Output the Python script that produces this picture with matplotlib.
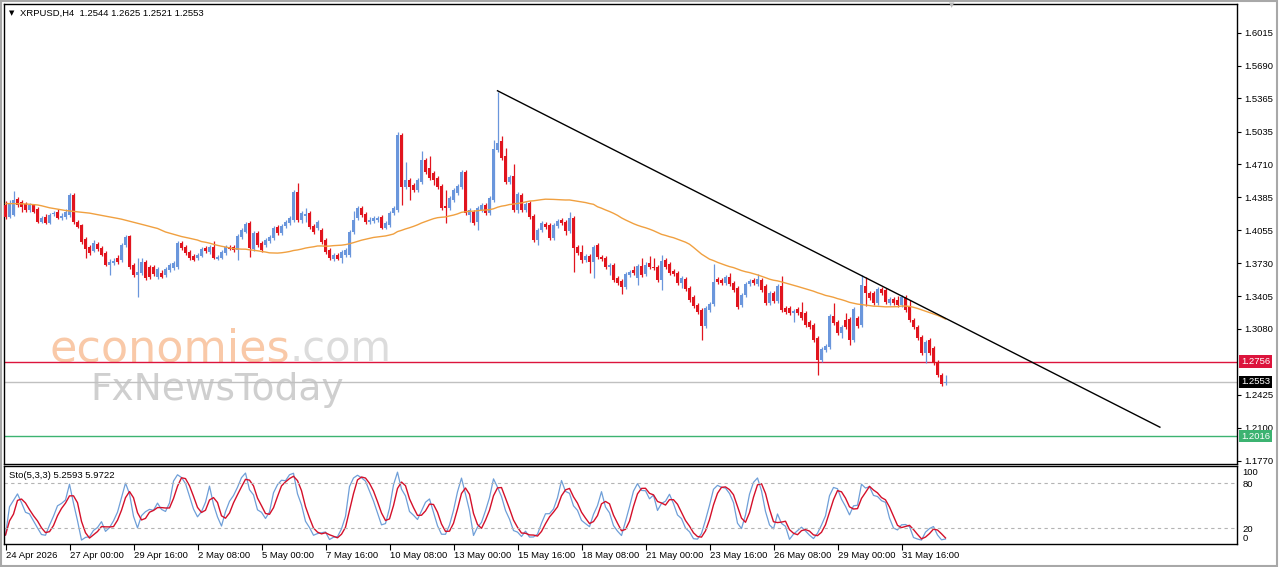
import numpy as np
import pandas as pd
import matplotlib
matplotlib.use("Agg")
import matplotlib.pyplot as plt
from matplotlib.patches import Rectangle

plt.rcParams['font.family'] = ['Liberation Sans', 'DejaVu Sans']

# ---- data (XRPUSD H4) ----
symbol_header = "XRPUSD,H4  1.2544 1.2625 1.2521 1.2553"
stoch_header = "Sto(5,3,3) 5.2593 5.9722"

opens = [
    1.4308, 1.4188, 1.4208, 1.4365, 1.4338, 1.4318, 1.4258, 1.4308, 1.4268, 1.4138, 1.4188, 1.4128,
    1.4218, 1.4238, 1.4178, 1.4188, 1.4208, 1.4405, 1.4138, 1.4110, 1.3970, 1.3890, 1.3852, 1.3920,
    1.3880, 1.3832, 1.3712, 1.3732, 1.3782, 1.3762, 1.3910, 1.4000, 1.3712, 1.3612, 1.3632, 1.3742,
    1.3692, 1.3692, 1.3595, 1.3632, 1.3612, 1.3662, 1.3682, 1.3692, 1.3930, 1.3890, 1.3842, 1.3802,
    1.3782, 1.3802, 1.3880, 1.3842, 1.3890, 1.3772, 1.3782, 1.3832, 1.3890, 1.3890, 1.3860, 1.3990,
    1.4040, 1.4128, 1.3870, 1.4030, 1.3930, 1.3910, 1.3950, 1.3980, 1.4090, 1.4030, 1.4100, 1.4128,
    1.4158, 1.4435, 1.4158, 1.4198, 1.4228, 1.4100, 1.4080, 1.4060, 1.3960, 1.3862, 1.3772, 1.3812,
    1.3782, 1.3812, 1.3812, 1.4040, 1.4178, 1.4278, 1.4218, 1.4138, 1.4148, 1.4158, 1.4188, 1.4080,
    1.4110, 1.4228, 1.4258, 1.5002, 1.4485, 1.4555, 1.4505, 1.4455, 1.4535, 1.4752, 1.4675, 1.4625,
    1.4575, 1.4495, 1.4298, 1.4278, 1.4355, 1.4425, 1.4485, 1.4635, 1.4208, 1.4238, 1.4138, 1.4258,
    1.4308, 1.4228, 1.4355, 1.4852, 1.4942, 1.4792, 1.4535, 1.4595, 1.4258, 1.4405, 1.4258, 1.4328,
    1.4198, 1.3960, 1.4060, 1.4118, 1.4110, 1.3980, 1.4098, 1.4158, 1.4138, 1.4050, 1.4178, 1.3890,
    1.3842, 1.3762, 1.3802, 1.3742, 1.3910, 1.3792, 1.3782, 1.3692, 1.3712, 1.3585, 1.3555, 1.3495,
    1.3612, 1.3662, 1.3585, 1.3702, 1.3622, 1.3732, 1.3692, 1.3692, 1.3565, 1.3762, 1.3722, 1.3652,
    1.3632, 1.3535, 1.3575, 1.3485, 1.3397, 1.3317, 1.3267, 1.3109, 1.3267, 1.3327, 1.3575, 1.3565,
    1.3535, 1.3595, 1.3535, 1.3485, 1.3317, 1.3415, 1.3525, 1.3565, 1.3525, 1.3565, 1.3505, 1.3337,
    1.3435, 1.3357, 1.3505, 1.3287, 1.3287, 1.3237, 1.3277, 1.3247, 1.3237, 1.3147, 1.3117, 1.2989,
    1.2772, 1.2871, 1.2901, 1.3207, 1.3147, 1.3039, 1.3167, 1.3177, 1.2969, 1.3187, 1.3117, 1.3505,
    1.3435, 1.3435, 1.3337, 1.3475, 1.3465, 1.3337, 1.3376, 1.3367, 1.3317, 1.3396, 1.3297, 1.3167,
    1.3099, 1.2999, 1.2842, 1.2969, 1.2890, 1.2752, 1.2623, 1.2544,
]
highs = [
    1.4348, 1.4358, 1.4445, 1.4385, 1.4358, 1.4338, 1.4328, 1.4318, 1.4288, 1.4198, 1.4218, 1.4228,
    1.4248, 1.4268, 1.4228, 1.4268, 1.4425, 1.4425, 1.4158, 1.4120, 1.3990, 1.3910, 1.3960, 1.3940,
    1.3900, 1.3852, 1.3772, 1.3782, 1.3812, 1.3930, 1.4010, 1.4010, 1.3732, 1.3782, 1.3782, 1.3762,
    1.3712, 1.3712, 1.3692, 1.3662, 1.3692, 1.3732, 1.3752, 1.3950, 1.3950, 1.3910, 1.3862, 1.3822,
    1.3832, 1.3890, 1.3900, 1.3910, 1.3950, 1.3812, 1.3862, 1.3910, 1.3910, 1.3910, 1.4020, 1.4080,
    1.4138, 1.4148, 1.4050, 1.4050, 1.3950, 1.3980, 1.4010, 1.4100, 1.4110, 1.4120, 1.4158, 1.4198,
    1.4455, 1.4525, 1.4248, 1.4278, 1.4248, 1.4120, 1.4158, 1.4080, 1.3980, 1.3880, 1.3832, 1.3832,
    1.3862, 1.3880, 1.4060, 1.4248, 1.4298, 1.4298, 1.4238, 1.4188, 1.4198, 1.4198, 1.4208, 1.4148,
    1.4248, 1.4298, 1.5032, 1.5022, 1.4733, 1.4575, 1.4525, 1.4575, 1.4842, 1.4772, 1.4792, 1.4645,
    1.4595, 1.4515, 1.4455, 1.4395, 1.4475, 1.4515, 1.4655, 1.4655, 1.4278, 1.4258, 1.4298, 1.4328,
    1.4328, 1.4395, 1.4952, 1.5429, 1.4992, 1.4872, 1.4605, 1.4715, 1.4435, 1.4425, 1.4338, 1.4348,
    1.4218, 1.4080, 1.4148, 1.4138, 1.4128, 1.4128, 1.4168, 1.4178, 1.4158, 1.4238, 1.4198, 1.3910,
    1.3910, 1.3822, 1.3822, 1.3910, 1.3930, 1.3812, 1.3802, 1.3732, 1.3732, 1.3605, 1.3575, 1.3642,
    1.3662, 1.3702, 1.3722, 1.3782, 1.3742, 1.3802, 1.3782, 1.3712, 1.3812, 1.3782, 1.3742, 1.3672,
    1.3652, 1.3605, 1.3595, 1.3505, 1.3417, 1.3337, 1.3287, 1.3307, 1.3347, 1.3722, 1.3595, 1.3585,
    1.3615, 1.3635, 1.3555, 1.3505, 1.3435, 1.3545, 1.3575, 1.3585, 1.3625, 1.3585, 1.3525, 1.3455,
    1.3455, 1.3525, 1.3605, 1.3307, 1.3307, 1.3277, 1.3297, 1.3347, 1.3257, 1.3167, 1.3137, 1.3009,
    1.2901, 1.2931, 1.3227, 1.3337, 1.3167, 1.3119, 1.3237, 1.3197, 1.3297, 1.3207, 1.3612, 1.3595,
    1.3455, 1.3455, 1.3495, 1.3495, 1.3485, 1.3396, 1.3396, 1.3405, 1.3415, 1.3415, 1.3367, 1.3187,
    1.3119, 1.3019, 1.2969, 1.2989, 1.2910, 1.2772, 1.2643, 1.2625,
]
lows = [
    1.4168, 1.4178, 1.4198, 1.4288, 1.4238, 1.4238, 1.4238, 1.4228, 1.4128, 1.4128, 1.4118, 1.4118,
    1.4198, 1.4168, 1.4158, 1.4168, 1.4188, 1.4118, 1.4080, 1.3920, 1.3782, 1.3812, 1.3842, 1.3852,
    1.3802, 1.3702, 1.3612, 1.3712, 1.3722, 1.3742, 1.3890, 1.3672, 1.3595, 1.3398, 1.3612, 1.3565,
    1.3575, 1.3602, 1.3575, 1.3585, 1.3595, 1.3642, 1.3662, 1.3672, 1.3860, 1.3812, 1.3762, 1.3752,
    1.3762, 1.3792, 1.3832, 1.3822, 1.3772, 1.3762, 1.3772, 1.3812, 1.3862, 1.3842, 1.3762, 1.3970,
    1.4030, 1.3792, 1.3852, 1.3890, 1.3842, 1.3890, 1.3930, 1.3960, 1.4010, 1.4010, 1.4080, 1.4110,
    1.4138, 1.4138, 1.4128, 1.4138, 1.4070, 1.4020, 1.4060, 1.3920, 1.3822, 1.3762, 1.3752, 1.3762,
    1.3732, 1.3792, 1.3792, 1.4020, 1.4158, 1.4188, 1.4118, 1.4118, 1.4128, 1.4138, 1.4070, 1.4070,
    1.4090, 1.4208, 1.4238, 1.4308, 1.4465, 1.4355, 1.4435, 1.4435, 1.4515, 1.4615, 1.4555, 1.4505,
    1.4465, 1.4258, 1.4128, 1.4258, 1.4338, 1.4405, 1.4465, 1.4208, 1.4138, 1.4110, 1.4060, 1.4238,
    1.4208, 1.4208, 1.4335, 1.4832, 1.4752, 1.4515, 1.4515, 1.4238, 1.4228, 1.4238, 1.4238, 1.4168,
    1.3940, 1.3910, 1.4040, 1.4070, 1.3960, 1.3960, 1.4080, 1.4110, 1.4010, 1.4030, 1.3642, 1.3812,
    1.3732, 1.3742, 1.3632, 1.3585, 1.3772, 1.3752, 1.3672, 1.3612, 1.3545, 1.3515, 1.3425, 1.3475,
    1.3595, 1.3612, 1.3515, 1.3595, 1.3605, 1.3672, 1.3662, 1.3545, 1.3465, 1.3672, 1.3612, 1.3605,
    1.3515, 1.3485, 1.3455, 1.3347, 1.3287, 1.3227, 1.2969, 1.3089, 1.3247, 1.3307, 1.3525, 1.3515,
    1.3515, 1.3505, 1.3445, 1.3277, 1.3297, 1.3395, 1.3505, 1.3515, 1.3505, 1.3445, 1.3317, 1.3317,
    1.3337, 1.3337, 1.3247, 1.3227, 1.3217, 1.3147, 1.3217, 1.3167, 1.3097, 1.3079, 1.2949, 1.2622,
    1.2752, 1.2851, 1.2881, 1.3117, 1.3019, 1.2989, 1.3079, 1.2919, 1.2949, 1.3089, 1.3097, 1.3307,
    1.3365, 1.3317, 1.3317, 1.3415, 1.3327, 1.3317, 1.3317, 1.3297, 1.3297, 1.3247, 1.3147, 1.3079,
    1.2969, 1.2822, 1.2742, 1.2822, 1.2722, 1.2603, 1.2514, 1.2521,
]
closes = [
    1.4188, 1.4328, 1.4358, 1.4308, 1.4288, 1.4258, 1.4308, 1.4238, 1.4138, 1.4178, 1.4128, 1.4208,
    1.4228, 1.4178, 1.4198, 1.4238, 1.4405, 1.4138, 1.4090, 1.3940, 1.3870, 1.3832, 1.3930, 1.3870,
    1.3812, 1.3712, 1.3742, 1.3752, 1.3742, 1.3910, 1.3990, 1.3692, 1.3612, 1.3642, 1.3742, 1.3585,
    1.3595, 1.3622, 1.3672, 1.3595, 1.3672, 1.3712, 1.3732, 1.3930, 1.3880, 1.3832, 1.3782, 1.3762,
    1.3812, 1.3870, 1.3850, 1.3890, 1.3782, 1.3792, 1.3842, 1.3890, 1.3870, 1.3860, 1.4000, 1.4060,
    1.4118, 1.3880, 1.4030, 1.3910, 1.3860, 1.3960, 1.3990, 1.4080, 1.4030, 1.4100, 1.4138, 1.4178,
    1.4435, 1.4158, 1.4228, 1.4218, 1.4090, 1.4040, 1.4138, 1.3940, 1.3842, 1.3782, 1.3812, 1.3772,
    1.3842, 1.3862, 1.4040, 1.4158, 1.4278, 1.4208, 1.4138, 1.4158, 1.4178, 1.4178, 1.4080, 1.4128,
    1.4228, 1.4278, 1.5002, 1.4485, 1.4555, 1.4485, 1.4455, 1.4555, 1.4752, 1.4635, 1.4575, 1.4555,
    1.4485, 1.4278, 1.4278, 1.4375, 1.4455, 1.4495, 1.4635, 1.4228, 1.4258, 1.4128, 1.4278, 1.4308,
    1.4228, 1.4375, 1.4862, 1.4922, 1.4772, 1.4535, 1.4585, 1.4258, 1.4415, 1.4258, 1.4318, 1.4188,
    1.3960, 1.4060, 1.4128, 1.4090, 1.3980, 1.4110, 1.4148, 1.4128, 1.4050, 1.4178, 1.3880, 1.3832,
    1.3762, 1.3802, 1.3742, 1.3890, 1.3792, 1.3772, 1.3692, 1.3712, 1.3565, 1.3535, 1.3495, 1.3622,
    1.3642, 1.3632, 1.3702, 1.3612, 1.3712, 1.3692, 1.3682, 1.3565, 1.3752, 1.3692, 1.3632, 1.3622,
    1.3535, 1.3585, 1.3475, 1.3367, 1.3307, 1.3247, 1.3109, 1.3287, 1.3327, 1.3545, 1.3545, 1.3535,
    1.3595, 1.3525, 1.3465, 1.3297, 1.3415, 1.3525, 1.3555, 1.3535, 1.3575, 1.3465, 1.3337, 1.3435,
    1.3357, 1.3505, 1.3267, 1.3247, 1.3237, 1.3257, 1.3237, 1.3187, 1.3117, 1.3097, 1.2969, 1.2772,
    1.2881, 1.2911, 1.3207, 1.3137, 1.3039, 1.3099, 1.3099, 1.2969, 1.3277, 1.3107, 1.3515, 1.3435,
    1.3385, 1.3337, 1.3475, 1.3435, 1.3347, 1.3376, 1.3337, 1.3317, 1.3396, 1.3267, 1.3167, 1.3099,
    1.2989, 1.2842, 1.2950, 1.2842, 1.2742, 1.2623, 1.2534, 1.2553,
]
# moving average values for the first 49 bars (before 50 closes are on screen)
ma_head = [
    1.4322, 1.4322, 1.4321, 1.4320, 1.4319, 1.4318, 1.4315, 1.4312, 1.4308, 1.4300, 1.4290, 1.4280,
    1.4273, 1.4266, 1.4259, 1.4253, 1.4248, 1.4244, 1.4240, 1.4237, 1.4233, 1.4227, 1.4220, 1.4212,
    1.4204, 1.4197, 1.4190, 1.4182, 1.4175, 1.4167, 1.4157, 1.4147, 1.4136, 1.4126, 1.4116, 1.4106,
    1.4095, 1.4085, 1.4075, 1.4058, 1.4040, 1.4029, 1.4018, 1.4006, 1.3995, 1.3987, 1.3978, 1.3969,
    1.3960,
]
ma_period = 50

# x labels every 16 bars
date_labels = ["24 Apr 2026", "27 Apr 00:00", "29 Apr 16:00", "2 May 08:00", "5 May 00:00",
               "7 May 16:00", "10 May 08:00", "13 May 00:00", "15 May 16:00", "18 May 08:00",
               "21 May 00:00", "23 May 16:00", "26 May 08:00", "29 May 00:00", "31 May 16:00"]
label_step = 16

price_ticks = [1.6015, 1.5690, 1.5365, 1.5035, 1.4710, 1.4385, 1.4055, 1.3730,
               1.3405, 1.3080, 1.2425, 1.2100, 1.1770]

resistance = 1.2756
support = 1.2016
last_price = 1.2553
trend_bars = [123, 288.6]
trend_prices = [1.5440, 1.2105]

# ---- colours ----
BULL = '#6a96dc'
BEAR = '#e1141e'
MA_COL = '#f0a040'
STO_MAIN = '#6f9fd8'
STO_SIG = '#d4102a'

W, H = 1280, 567


def fx(px):
    return px / W


def fy(py):
    return 1 - py / H


o = np.array(opens)
h = np.array(highs)
l = np.array(lows)
c = np.array(closes)
n = len(c)
idx = np.arange(n)

sma = pd.Series(c).rolling(ma_period).mean().to_numpy()
ma = np.r_[ma_head, sma[len(ma_head):]]

# stochastic 5,3,3 (MT4 style slowing)
hs, ls, cs = pd.Series(h), pd.Series(l), pd.Series(c)
hh = hs.rolling(5, min_periods=1).max()
ll = ls.rolling(5, min_periods=1).min()
num = (cs - ll).rolling(3, min_periods=1).sum()
den = (hh - ll).rolling(3, min_periods=1).sum()
k = (100 * num / den).to_numpy()
d = pd.Series(k).rolling(3, min_periods=1).mean().to_numpy()

fig = plt.figure(figsize=(12.8, 5.67), dpi=100)
ax = fig.add_axes([fx(4), fy(464), fx(1237) - fx(4), fy(4) - fy(464)])
ax2 = fig.add_axes([fx(4), fy(544), fx(1237) - fx(4), fy(466) - fy(544)])

xmin = -0.375
xmax = xmin + 1233 / 4
for a in (ax, ax2):
    a.set_xlim(xmin, xmax)
    for s in a.spines.values():
        s.set_color('black')
        s.set_linewidth(1)

# candles
up = c >= o
cols = np.where(up, BULL, BEAR)
ax.vlines(idx, l, h, colors=cols, lw=0.9, zorder=3)
bottom = np.minimum(o, c)
height = np.maximum(np.abs(c - o), 0.0007)
ax.bar(idx, height, bottom=bottom, width=0.72, color=cols, linewidth=0, zorder=4)

ax.plot(idx, ma, color=MA_COL, lw=1, zorder=5)
ax.plot(trend_bars, trend_prices, color='black', lw=1, zorder=6)

ax.axhline(resistance, color='#dc143c', lw=1, zorder=2)
ax.axhline(support, color='#3cb371', lw=1, zorder=2)
ax.axhline(last_price, color='#c0c0c0', lw=1, zorder=2)

ax.set_ylim(1.1740, 1.6300)
ax.yaxis.tick_right()
ax.set_yticks(price_ticks)
ax.set_yticklabels([f"{p:.4f}" for p in price_ticks])
ax.tick_params(axis='y', direction='out', length=3, width=0.8, labelsize=6.8, pad=2, colors='black')
ax.set_xticks([])

for val, bg in ((resistance, '#dc143c'), (last_price, 'black'), (support, '#3cb371')):
    ax.annotate(f"{val:.4f}", xy=(1.0, val), xycoords=('axes fraction', 'data'),
                xytext=(3, 0), textcoords='offset points', va='center', ha='left',
                fontsize=6.8, color='white', annotation_clip=False,
                bbox=dict(boxstyle='square,pad=0.18', fc=bg, ec='none'))

# stochastic panel
ax2.plot(idx, k, color=STO_MAIN, lw=0.9)
ax2.plot(idx, d, color=STO_SIG, lw=1)
for lv in (20, 80):
    ax2.axhline(lv, color='#b4b4b4', lw=0.8, dashes=(3, 3))
ax2.set_ylim(-0.9, 103.1)
ax2.yaxis.tick_right()
ax2.set_yticks([0, 20, 80, 100])
ax2.set_yticklabels(['0', '20', '80', '100'])
ax2.tick_params(axis='y', length=0, labelsize=6.8, pad=4)
ylabs = ax2.get_yticklabels()
ylabs[0].set_va('bottom')
ylabs[3].set_va('top')

tick_pos = np.arange(len(date_labels)) * label_step
ax2.set_xticks(tick_pos)
ax2.set_xticklabels(date_labels)
ax2.tick_params(axis='x', direction='out', length=4, width=0.8, labelsize=6.8, pad=1)
for t in ax2.get_xticklabels():
    t.set_ha('left')

# header texts
fig.text(fx(9), fy(13), "\u25BC", fontsize=5, va='center', ha='left', family='DejaVu Sans')
fig.text(fx(20), fy(13), symbol_header, fontsize=6.8, va='center', ha='left')
fig.text(fx(9), fy(475), stoch_header, fontsize=6.8, va='center', ha='left')

# watermark
ax.text(fx(50), fy(361), "economies", transform=fig.transFigure, fontsize=32,
        color='#f9c9a8', family='DejaVu Sans', va='baseline', ha='left', zorder=1)
ax.text(fx(290), fy(361), ".com", transform=fig.transFigure, fontsize=30,
        color='#dcdcdc', family='DejaVu Sans', va='baseline', ha='left', zorder=1)
ax.text(fx(90), fy(400), "FxNewsToday", transform=fig.transFigure, fontsize=27,
        color='#cfcfcf', family='DejaVu Sans', va='baseline', ha='left', zorder=1)

# chart shift marker and window frame
fig.text(fx(952), fy(5), "\u25BC", fontsize=5, color='#b8b8b8', va='center', ha='center',
         family='DejaVu Sans')
fig.patches.append(Rectangle((fx(0.5), fy(565.5)), fx(1277) - fx(0.5), fy(0.5) - fy(565.5),
                             transform=fig.transFigure, fill=False, ec='#a8a8a8', lw=1.5))

fig.savefig('out.png', dpi=100)
